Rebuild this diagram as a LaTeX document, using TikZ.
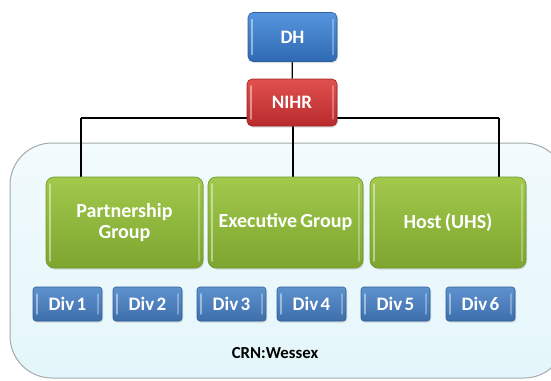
\documentclass[tikz,border=0pt]{standalone}
\usepackage{fontspec}
\setmainfont{Carlito}
\usetikzlibrary{shadows}
\pgfdeclarelayer{bg}
\pgfdeclarelayer{conn}
\pgfsetlayers{bg,conn,main}
\definecolor{bgfill}{HTML}{E4F6FB}
\definecolor{bgtop}{HTML}{F2FBFD}
\definecolor{bgline}{HTML}{A3ABAF}
\definecolor{gtop}{HTML}{A2C94C}
\definecolor{gbot}{HTML}{7DA52F}
\definecolor{gline}{HTML}{6F9728}
\definecolor{btop}{HTML}{5595DD}
\definecolor{bbot}{HTML}{2F6AB3}
\definecolor{bline}{HTML}{2A5E9E}
\definecolor{rtop}{HTML}{E0514F}
\definecolor{rbot}{HTML}{B82A2C}
\definecolor{rline}{HTML}{9E2325}
\definecolor{dtop}{HTML}{5E92CF}
\definecolor{dbot}{HTML}{3C6EAB}
\definecolor{dline}{HTML}{345F96}
\begin{document}
\begin{tikzpicture}[x=1pt,y=-1pt,
  boxbase/.style={rounded corners=5pt, text=white, font=\bfseries, align=center,
    inner sep=0pt, line width=0.6pt,
    drop shadow={opacity=0.25, shadow xshift=1pt, shadow yshift=-1.5pt},
    path picture={
      \draw[white, opacity=0.45, line width=1.5pt, line cap=round]
        ([xshift=4pt,yshift=-7pt]path picture bounding box.north west) --
        ([xshift=4pt,yshift=7pt]path picture bounding box.south west);
      \draw[white, opacity=0.3, line width=1.5pt, line cap=round]
        ([xshift=-4pt,yshift=-7pt]path picture bounding box.north east) --
        ([xshift=-4pt,yshift=7pt]path picture bounding box.south east);
    }},
  topbox/.style={boxbase, draw=bline, top color=btop, bottom color=bbot,
    minimum width=89pt, minimum height=49pt, font=\bfseries\fontsize{19}{21}\selectfont},
  redbox/.style={boxbase, draw=rline, top color=rtop, bottom color=rbot,
    minimum width=90pt, minimum height=47pt, font=\bfseries\fontsize{19}{21}\selectfont},
  greenbox/.style={boxbase, rounded corners=8pt, draw=gline, top color=gtop, bottom color=gbot,
    minimum height=91pt, font=\bfseries\fontsize{20}{21}\selectfont,
    execute at begin node={\spaceskip=0.16em\relax}},
  divbox/.style={boxbase, rounded corners=3pt, draw=dline, top color=dtop, bottom color=dbot,
    minimum width=69pt, minimum height=34pt, font=\bfseries\fontsize{19}{21}\selectfont,
    execute at begin node={\spaceskip=0.12em\relax}},
  conn/.style={draw=black, line width=1.3pt}
]
\useasboundingbox (0,0) rectangle (551,380);
\clip (0,0) rectangle (551,380);

% background container
\begin{pgfonlayer}{bg}
  \fill[white] (0,0) rectangle (551,380);
  \path[draw=bgline, line width=1pt, rounded corners=42pt,
        top color=bgtop, bottom color=bgfill]
    (10,143) rectangle (566,378);
\end{pgfonlayer}

% nodes
\node[topbox] (dh) at (292.5,37) {DH};
\node[redbox] (nihr) at (292,102.5) {NIHR};
\node[greenbox, minimum width=157pt] (pg) at (124.5,222.5) {Partnership\\Group};
\node[greenbox, minimum width=155pt] (eg) at (285.5,222.5) {Executive Group};
\node[greenbox, minimum width=156pt] (host) at (448,222.5) {Host (UHS)};

\node[divbox] (d1) at (67.5,304) {Div 1};
\node[divbox] (d2) at (147.5,304) {Div 2};
\node[divbox] (d3) at (231.5,304) {Div 3};
\node[divbox] (d4) at (311.5,304) {Div 4};
\node[divbox] (d5) at (395.5,304) {Div 5};
\node[divbox] (d6) at (480.5,304) {Div 6};

\node[font=\bfseries\fontsize{16.8}{19}\selectfont, text=black] (crn) at (275,353) {CRN:Wessex};

% connectors
\coordinate (busl) at (81,118);
\coordinate (busr) at (499,118);
\coordinate (busm) at (293,118);
\begin{pgfonlayer}{conn}
  \draw[conn] (dh) -- (nihr);
  \draw[conn] (busl) -- (busr);
  \draw[conn] (busl) -- (busl |- pg.north);
  \draw[conn] (busr) -- (busr |- host.north);
  \draw[conn] (busm) -- (busm |- eg.north);
\end{pgfonlayer}
\end{tikzpicture}
\end{document}
